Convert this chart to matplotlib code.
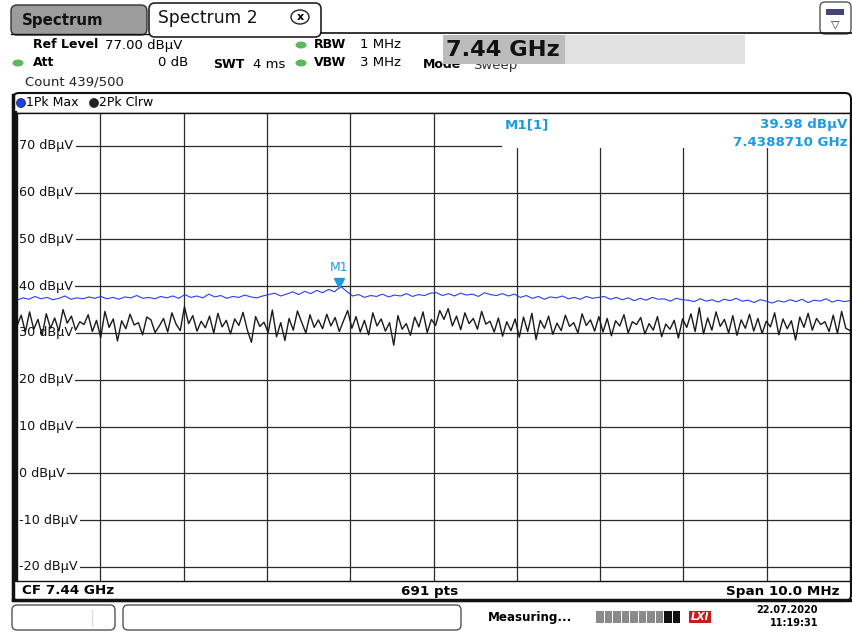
import matplotlib
matplotlib.use("Agg")
import matplotlib.pyplot as plt
import matplotlib.patches as mpatches
import numpy as np

# sweep settings
f_start, f_stop = 7.435, 7.445  # GHz
ref_level = 77.0
y_bottom = -23.0
level_ticks = [70, 60, 50, 40, 30, 20, 10, 0, -10, -20]
level_labels = [f"{v} dBµV" for v in level_ticks]

marker_freq = 7.4388710
marker_level = 39.98

# trace 1: Pk Max (blue), dBµV
max_trace = [
    37.0, 37.5, 37.2, 37.8, 37.3, 37.6, 37.1, 37.4, 37.9, 37.2, 37.5, 37.3, 37.7, 37.4,
    37.8, 37.3, 37.6, 37.2, 37.7, 37.5, 38.0, 37.4, 37.6, 37.3, 37.8, 37.5, 37.9, 37.4,
    38.2, 37.6, 37.9, 37.5, 38.3, 37.7, 38.0, 37.4, 37.8, 37.6, 38.1, 37.7, 37.5, 37.9,
    38.2, 38.5, 37.9, 38.3, 38.8, 38.2, 38.9, 38.4, 39.1, 38.6, 39.3, 38.8, 39.98, 38.9,
    37.9, 38.2, 37.6, 38.0, 37.8, 38.3, 37.7, 38.1, 37.9, 38.4, 37.8, 38.2, 38.0, 38.5,
    38.6, 38.0, 38.4, 37.9, 38.5, 38.1, 38.3, 37.8, 38.6, 38.2, 38.0, 38.4, 37.9, 38.3,
    37.6, 38.0, 37.4, 37.8, 37.2, 37.7, 37.5, 37.9, 37.3, 37.6, 37.2, 37.8, 37.4, 37.6,
    37.8, 37.2, 37.6, 37.1, 37.5, 36.9, 37.4, 37.0, 37.6, 37.2, 37.3, 36.8, 37.4, 37.1,
    37.0, 36.7, 37.3, 36.8, 37.1, 36.6, 37.2, 36.9, 37.4, 36.8, 37.0, 36.5, 37.1, 36.8,
    36.4, 36.9, 36.6, 37.1, 36.7, 37.2, 36.5, 37.0, 36.8, 37.3, 36.6, 37.0, 36.7, 36.9,
]

# trace 2: Pk Clrw (black), dBµV
clrw_trace = [
    31.5, 33.8, 30.2, 34.5, 30.8, 32.9, 29.5, 34.1, 31.0, 33.2, 30.4, 35.0, 32.1, 33.6, 30.6, 32.4, 31.8, 33.9, 30.3, 32.7,
    29.0, 34.6, 31.2, 33.0, 28.3, 32.6, 30.9, 34.0, 31.7, 32.2, 29.6, 33.4, 32.8, 30.1, 31.5, 33.1, 30.2, 34.3, 31.9, 30.5,
    35.6, 32.0, 33.7, 30.4, 32.5, 31.1, 33.6, 30.0, 34.2, 31.3, 32.7, 29.8, 33.0, 31.6, 34.4, 30.7, 28.0, 33.5, 31.4, 32.3,
    30.1, 34.9, 29.2, 32.2, 28.4, 33.1, 30.6, 34.7, 32.3, 30.0, 33.9, 31.2, 32.8, 30.9, 34.0, 31.5, 33.3, 30.3, 32.6, 34.8,
    31.0, 33.5, 30.2, 32.7, 29.6, 34.3, 31.5, 33.0, 30.4, 32.2, 27.4, 33.7, 30.8, 32.0, 29.5, 33.4, 31.3, 34.5, 30.1, 32.9,
    31.6, 34.8, 32.9, 35.2, 31.5, 33.6, 30.7, 34.3, 32.0, 33.1, 30.8, 34.6, 31.9, 32.5, 30.2, 33.2, 29.3, 32.4, 30.5, 33.0,
    29.1, 33.4, 30.3, 34.2, 28.6, 32.7, 31.0, 33.6, 29.7, 32.1, 30.5, 33.8, 31.4, 32.2, 30.0, 34.1, 31.6, 32.8, 30.4, 33.5,
    30.2, 33.1, 29.4, 32.6, 31.5, 33.9, 30.0, 32.4, 31.8, 33.3, 29.8, 32.0, 30.6, 33.5, 29.2, 31.9, 30.8, 32.7, 28.9, 33.0,
    31.2, 34.1, 30.3, 35.4, 29.8, 33.2, 30.6, 34.5, 31.4, 32.9, 30.0, 33.7, 29.5, 32.8, 31.0, 34.0, 30.4, 33.1, 29.9, 32.5,
    31.3, 34.3, 29.6, 33.0, 30.9, 32.6, 28.5, 33.4, 31.2, 34.2, 30.6, 33.1, 31.8, 32.4, 30.3, 33.8, 29.9, 34.6, 31.0, 30.5,
]

W, H = 852, 632
MK = "#1e9be0"
GREEN = "#5cb85c"

fig = plt.figure(figsize=(W / 100, H / 100), dpi=100)
fig.patch.set_facecolor("white")

# whole screen in pixel coords
bg = fig.add_axes([0, 0, 1, 1])
bg.set_xlim(0, W)
bg.set_ylim(H, 0)
bg.axis("off")

# tabs
bg.add_patch(mpatches.FancyBboxPatch((11, 5), 136, 30, boxstyle="round,pad=0,rounding_size=6",
                                     fc="#9c9c9c", ec="#333333", lw=1))
bg.text(22, 20, "Spectrum", fontsize=10.8, fontweight="bold", va="center", color="#111111")
bg.add_patch(mpatches.FancyBboxPatch((149, 3), 172, 34, boxstyle="round,pad=0,rounding_size=6",
                                     fc="white", ec="#222222", lw=1.2))
bg.text(158, 18, "Spectrum 2", fontsize=12.3, va="center", color="#111111")
bg.add_patch(mpatches.Ellipse((300, 17), 18, 14, fc="white", ec="#222222", lw=1))
bg.text(300, 17, "x", fontsize=8, fontweight="bold", ha="center", va="center")
bg.plot([321, W], [33, 33], color="#111111", lw=1.2)
bg.plot([11, 149], [34, 34], color="#111111", lw=1)
# menu icon top right
bg.add_patch(mpatches.FancyBboxPatch((820, 2), 31, 32, boxstyle="round,pad=0,rounding_size=5",
                                     fc="white", ec="#555555", lw=1))
bg.add_patch(mpatches.Rectangle((826, 9), 18, 6, fc="#444477", ec="none"))
bg.text(835, 24, "▽", fontsize=8, ha="center", va="center", color="#333333")

# settings block
fs = 9.5
bg.text(33, 45, "Ref Level", fontsize=9, fontweight="bold", va="center")
bg.text(105, 45, "77.00 dBµV", fontsize=fs, va="center")
bg.add_patch(mpatches.Ellipse((18, 63), 11, 7, fc=GREEN, ec="none"))
bg.text(33, 63, "Att", fontsize=9, fontweight="bold", va="center")
bg.text(188, 63, "0 dB", fontsize=fs, va="center", ha="right")
bg.text(213, 64, "SWT", fontsize=9, fontweight="bold", va="center")
bg.text(253, 64, "4 ms", fontsize=fs, va="center")
bg.add_patch(mpatches.Ellipse((301, 45), 11, 7, fc=GREEN, ec="none"))
bg.add_patch(mpatches.Ellipse((301, 63), 11, 7, fc=GREEN, ec="none"))
bg.text(314, 45, "RBW", fontsize=9, fontweight="bold", va="center")
bg.text(360, 45, "1 MHz", fontsize=fs, va="center")
bg.text(314, 63, "VBW", fontsize=9, fontweight="bold", va="center")
bg.text(360, 63, "3 MHz", fontsize=fs, va="center")
bg.text(423, 65, "Mode", fontsize=9, fontweight="bold", va="center", zorder=2)
bg.text(473, 65, "Sweep", fontsize=fs, va="center", color="#333333", zorder=2)
bg.text(25, 82, "Count 439/500", fontsize=fs, va="center", color="#222222")
# center frequency entry box
bg.add_patch(mpatches.Rectangle((443, 35), 302, 29, fc="#e1e1e1", ec="none", zorder=3))
bg.add_patch(mpatches.Rectangle((443, 35), 122, 29, fc="#bcbcbc", ec="none", zorder=3))
bg.text(446, 50, "7.44 GHz", fontsize=16.2, fontweight="bold", va="center", zorder=4, color="#111111")

# diagram frame
bg.add_patch(mpatches.FancyBboxPatch((13, 93), 838, 508, boxstyle="round,pad=0,rounding_size=6",
                                     fc="white", ec="#111111", lw=1.5))
bg.plot([13, 13], [95, 599], color="#111111", lw=2.5)
bg.plot([16, 16], [112, 581], color="#111111", lw=1.5)
bg.plot([13, 851], [112.5, 112.5], color="#111111", lw=1)
bg.add_patch(mpatches.Circle((21, 103), 4.5, fc="#1a3ff0", ec="#222222", lw=0.5))
bg.text(26, 103, "1Pk Max", fontsize=9, va="center")
bg.add_patch(mpatches.Circle((94, 103), 4.5, fc="#222222", ec="#222222", lw=0.5))
bg.text(99, 103, "2Pk Clrw", fontsize=9, va="center")

# bottom info line
bg.plot([13, 851], [599.5, 599.5], color="#111111", lw=2.5)
bg.text(22, 591, "CF 7.44 GHz", fontsize=9.7, fontweight="bold", va="center")
bg.text(430, 591, "691 pts", fontsize=9.7, fontweight="bold", va="center", ha="center")
bg.text(840, 591, "Span 10.0 MHz", fontsize=9.7, fontweight="bold", va="center", ha="right")

# status bar
bg.add_patch(mpatches.FancyBboxPatch((12, 605), 103, 25, boxstyle="round,pad=0,rounding_size=5",
                                     fc="white", ec="#555555", lw=1))
bg.plot([92, 92], [610, 626], color="#dddddd", lw=1)
bg.add_patch(mpatches.FancyBboxPatch((123, 605), 338, 25, boxstyle="round,pad=0,rounding_size=5",
                                     fc="white", ec="#555555", lw=1))
bg.text(488, 617, "Measuring...", fontsize=8.6, fontweight="bold", va="center")
for i in range(10):
    col = "#111111" if i >= 8 else "#8a8a8a"
    bg.add_patch(mpatches.Rectangle((596 + i * 8.5, 611), 7.5, 12, fc=col, ec="none"))
bg.text(700, 617, "LXI", fontsize=7.5, fontweight="bold", fontstyle="italic", color="white",
        va="center", ha="center", bbox=dict(fc="#cc1a1a", ec="none", pad=1))
bg.text(818, 610, "22.07.2020", fontsize=7, fontweight="bold", va="center", ha="right")
bg.text(818, 623, "11:19:31", fontsize=7, fontweight="bold", va="center", ha="right")

# diagram
ax = fig.add_axes([17 / W, (H - 581) / H, 833 / W, 468 / H])
ax.set_xlim(f_start, f_stop)
ax.set_ylim(y_bottom, ref_level)
ax.set_xticks([])
ax.set_yticks([])
for s in ax.spines.values():
    s.set_color("#111111")
    s.set_linewidth(1)
    s.set_zorder(6)

grid_c = "#2a2a2a"
for xv in np.linspace(f_start, f_stop, 11)[1:-1]:
    ax.axvline(xv, color=grid_c, lw=0.9, zorder=1)
for v, lab in zip(level_ticks, level_labels):
    ax.axhline(v, color=grid_c, lw=0.9, zorder=1)
    ax.text(f_start + 0.00002, v, lab, fontsize=9.2, va="center", ha="left", color="#111111",
            zorder=2, clip_on=True, bbox=dict(fc="white", ec="none", pad=2.0))

# marker info box
ax.add_patch(mpatches.Rectangle((0.582, 0.925), 0.42, 0.08, transform=ax.transAxes,
                                fc="white", ec="none", zorder=2))
ax.text(0.585, 0.975, "M1[1]", transform=ax.transAxes, fontsize=9.6, fontweight="bold",
        color=MK, va="center", zorder=3)
ax.text(0.997, 0.975, "39.98 dBµV", transform=ax.transAxes, fontsize=9.6, fontweight="bold",
        color=MK, va="center", ha="right", zorder=3)
ax.text(0.997, 0.937, "7.4388710 GHz", transform=ax.transAxes, fontsize=9.6, fontweight="bold",
        color=MK, va="center", ha="right", zorder=3)

f_max = np.linspace(f_start, f_stop, len(max_trace))
f_clrw = np.linspace(f_start, f_stop, len(clrw_trace))
ax.plot(f_clrw, clrw_trace, color="#1a1a1a", lw=1.0, zorder=3)
ax.plot(f_max, max_trace, color="#2b3cf5", lw=0.8, zorder=4)

# marker M1
ax.plot([marker_freq], [marker_level + 0.6], marker="v", color=MK, markersize=7, zorder=5)
ax.text(marker_freq, marker_level + 2.6, "M1", fontsize=9, color=MK, ha="center", va="bottom", zorder=5)

fig.savefig("out.png", dpi=100)
